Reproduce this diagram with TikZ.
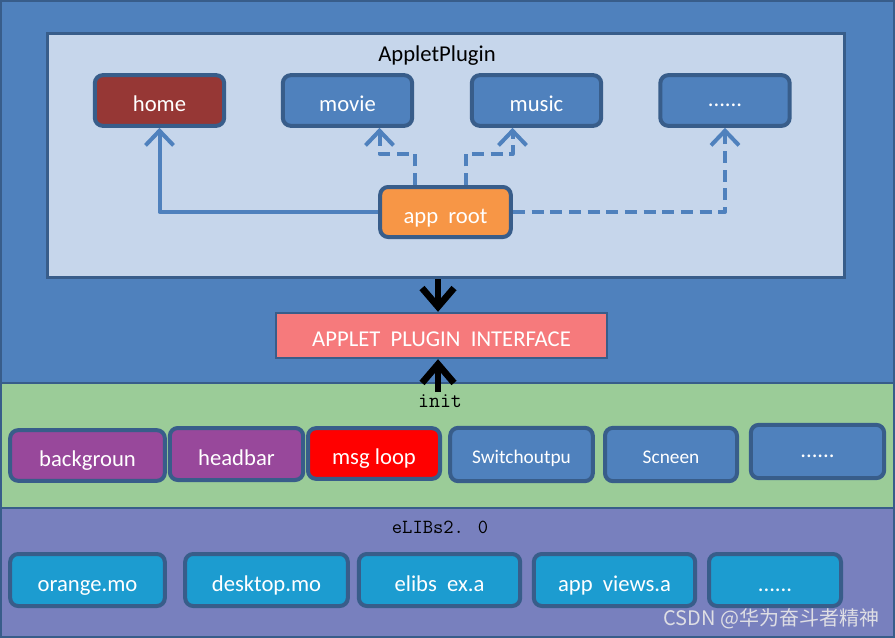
\documentclass[tikz,border=0pt]{standalone}
\usepackage{fontspec}
\setmainfont{Carlito}
\newfontfamily\cjkfont{Noto Sans CJK SC}
\usetikzlibrary{arrows.meta}

\definecolor{frameBlue}{RGB}{79,129,189}
\definecolor{edgeBlue}{RGB}{56,93,138}
\definecolor{paleBlue}{RGB}{198,214,235}
\definecolor{homeRed}{RGB}{150,55,53}
\definecolor{rootOrange}{RGB}{247,150,70}
\definecolor{ifacePink}{RGB}{246,122,124}
\definecolor{initGreen}{RGB}{155,204,152}
\definecolor{libPurple}{RGB}{120,128,190}
\definecolor{modPurple}{RGB}{152,72,155}
\definecolor{loopRed}{RGB}{255,0,0}
\definecolor{libCyan}{RGB}{28,156,208}
\definecolor{markGray}{RGB}{222,222,228}

\tikzset{every picture/.style={line width=0.75pt}}
\tikzset{
  band/.style={draw=edgeBlue, line width=1.5pt},
  appbox/.style={draw=edgeBlue, line width=3pt, rounded corners=6pt, inner sep=0pt,
    text=white, text height=17pt, text depth=0pt, font=\fontsize{17}{20}\selectfont},
  smallbox/.style={appbox, text height=14pt, font=\fontsize{14.5}{17}\selectfont},
  dotsbox/.style={appbox, text height=9pt},
  linkarr/.style={draw=frameBlue, line width=3pt, line join=round,
    -{Straight Barb[length=11pt,width=21pt]}},
  dasharr/.style={linkarr, dash pattern=on 9pt off 5pt},
  callarr/.style={draw=black, line width=5pt, -{Straight Barb[length=14pt,width=24pt]}},
  monolabel/.style={anchor=base, inner sep=0pt, font=\ttfamily\fontsize{16}{18}\selectfont}
}

\begin{document}
\begin{tikzpicture}[x=0.75pt,y=0.75pt,yscale=-1,xscale=1]
\useasboundingbox (0,0) rectangle (895,638);

%Shape: Rectangle (bands)
\draw [band, fill=frameBlue] (1,1) rectangle (894,383);
\draw [band, fill=initGreen] (1,383) rectangle (894,508);
\draw [band, fill=libPurple] (1,508) rectangle (894,637);

%Shape: Rectangle (plugin panel)
\node [draw=edgeBlue, line width=2.25pt, fill=paleBlue, minimum width=598pt, minimum height=183pt] (plugin) at (446,155.5) {};
% Text Node
\node [anchor=base, inner sep=0pt, font=\fontsize{17}{20}\selectfont] (plugtitle) at (437,62) {AppletPlugin};

% plugin row
\node [appbox, fill=homeRed, minimum width=97pt, minimum height=38pt] (home) at (159.5,100.5) {home};
\node [appbox, fill=frameBlue, minimum width=97pt, minimum height=38pt] (movie) at (347.5,100.5) {movie};
\node [appbox, fill=frameBlue, minimum width=97pt, minimum height=38pt] (music) at (536.5,100.5) {music};
\node [dotsbox, fill=frameBlue, minimum width=97pt, minimum height=38pt] (moreapp) at (725,100.5) {......};
\node [appbox, fill=rootOrange, minimum width=98pt, minimum height=37.5pt] (root) at (445.5,212) {app\ \ root};

%Straight Lines (root to apps)
\draw [linkarr] (root.west) -| (home.south);
\draw [dasharr] ([xshift=-23pt]root.north) -- ++(0,-31) -| ([xshift=24pt]movie.south);
\draw [dasharr] ([xshift=15pt]root.north) -- ++(0,-31) -| ([xshift=-18pt]music.south);
\draw [dasharr] (root.east) -| (moreapp.south);

%Shape: Rectangle (interface)
\node [draw=edgeBlue, line width=1.5pt, fill=ifacePink, inner sep=0pt, text=white,
  text height=17pt, text depth=0pt, font=\fontsize{17}{20}\selectfont,
  minimum width=248pt, minimum height=34pt] (iface) at (441.5,335.5) {APPLET\ \ PLUGIN\ \ INTERFACE};

\coordinate (initpt) at (438,392);
\draw [callarr] (plugin.south -| initpt) -- (iface.north -| initpt);
\draw [callarr] (initpt) -- (iface.south -| initpt);

% Text Node
\node [monolabel] (initlbl) at (440,407) {init};

% init row
\node [appbox, fill=modPurple, minimum width=116pt, minimum height=38pt] (backgr) at (87.5,455.5) {backgroun};
\node [appbox, fill=modPurple, minimum width=100pt, minimum height=39pt] (headbar) at (236.5,454) {headbar};
\node [appbox, fill=loopRed, minimum width=99pt, minimum height=38pt] (msgloop) at (374,453.5) {msg loop};
\node [smallbox, fill=frameBlue, minimum width=107pt, minimum height=40pt] (switchout) at (521.5,454.5) {Switchoutpu};
\node [smallbox, fill=frameBlue, minimum width=99pt, minimum height=40pt] (scneen) at (671,454.5) {Scneen};
\node [dotsbox, fill=frameBlue, minimum width=100pt, minimum height=40pt] (moreinit) at (817.5,451.5) {......};

% Text Node
\node [monolabel, font=\ttfamily\fontsize{15}{18}\selectfont] (libslbl) at (440,533) {eLIBs2. 0};

% lib row
\node [appbox, fill=libCyan, minimum width=116pt, minimum height=39pt] (orange) at (87.5,580) {orange.mo};
\node [appbox, fill=libCyan, minimum width=122pt, minimum height=39pt] (desktop) at (266.5,580) {desktop.mo};
\node [appbox, fill=libCyan, minimum width=121pt, minimum height=39pt] (elibsex) at (439.5,580) {elibs\ \ ex.a};
\node [appbox, fill=libCyan, minimum width=121pt, minimum height=39pt] (views) at (614.5,580) {app\ \ views.a};
\node [appbox, fill=libCyan, minimum width=99pt, minimum height=39pt] (morelib) at (775,580) {......};

% Text Node (watermark)
\node [anchor=base east, inner sep=0pt, text=markGray, font=\cjkfont\fontsize{15}{17}\selectfont] (mark) at (880,625) {CSDN @华为奋斗者精神};

\end{tikzpicture}
\end{document}
